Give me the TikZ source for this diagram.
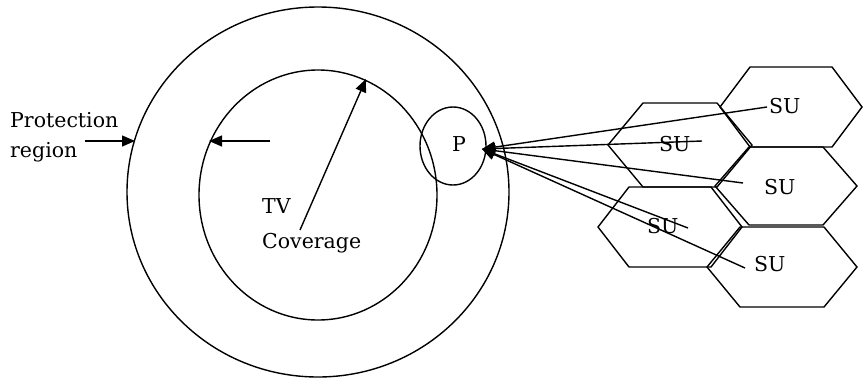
\documentclass[tikz,border=0pt]{standalone}
\usepackage{fontspec}
\setmainfont{DejaVu Serif}
\usetikzlibrary{arrows.meta,shapes.geometric}
\tikzset{
  lw/.style={line width=1.4pt},
  lbl/.style={font=\fontsize{20.5}{24}\selectfont, inner sep=0pt, anchor=base west},
  arr/.style={lw,-{Triangle[length=13pt,width=11pt]}},
  ring/.style={lw, draw, ellipse, inner sep=0pt},
  hexline/.style={lw, line join=miter}
}
\newcommand\hexcell[5]{%
  \draw[hexline] (#1-#3,#2) -- (#1-#4,#2-#5) -- (#1+#4,#2-#5) -- (#1+#3,#2)
    -- (#1+#4,#2+#5) -- (#1-#4,#2+#5) -- cycle;}
\begin{document}
\begin{tikzpicture}[x=1pt,y=-1pt]
\useasboundingbox (0,0) rectangle (863,381);
% circles
\node[ring, minimum width=382pt, minimum height=370pt] (outer) at (318,192) {};
\node[ring, minimum width=238pt, minimum height=250pt] (inner) at (318,195) {};
\node[ring, minimum width=66pt, minimum height=78pt] (pc) at (453,146) {};
% hexagons
\hexcell{791}{107}{71}{41}{40}
\hexcell{680}{145}{72}{37}{42}
\hexcell{786}{186}{71}{37}{39}
\hexcell{670}{227}{72}{41}{40}
\hexcell{782}{267}{75}{42}{40}
% texts
\node[lbl] (prot) at (10,127) {Protection};
\node[lbl] (reg) at (10,157) {region};
\node[lbl] (tv) at (262,213) {TV};
\node[lbl] (cov) at (262,248) {Coverage};
\node[lbl] (p) at (452,151) {P};
\node[lbl] (su1) at (769,113) {SU};
\node[lbl] (su2) at (659,151) {SU};
\node[lbl] (su3) at (764,194) {SU};
\node[lbl] (su4) at (647,233) {SU};
\node[lbl] (su5) at (754,271) {SU};
% coordinates
\coordinate (pa) at (85,141);
\coordinate (pb) at (135,141);
\coordinate (ia) at (270,141);
\coordinate (ib) at (209,141);
\coordinate (ra) at (300,230);
\coordinate (rb) at (366,79);
\coordinate (tip) at (482,149);
\coordinate (e1) at (767,107);
\coordinate (e2) at (702,141);
\coordinate (e3) at (743,183);
\coordinate (e4) at (688,228);
\coordinate (e5) at (745,268);
% arrows
\draw[arr] (pa) -- (pb);
\draw[arr] (ia) -- (ib);
\draw[arr] (ra) -- (rb);
\foreach \e in {e1,e2,e3,e4,e5} \draw[arr] (\e) -- (tip);
\end{tikzpicture}
\end{document}
